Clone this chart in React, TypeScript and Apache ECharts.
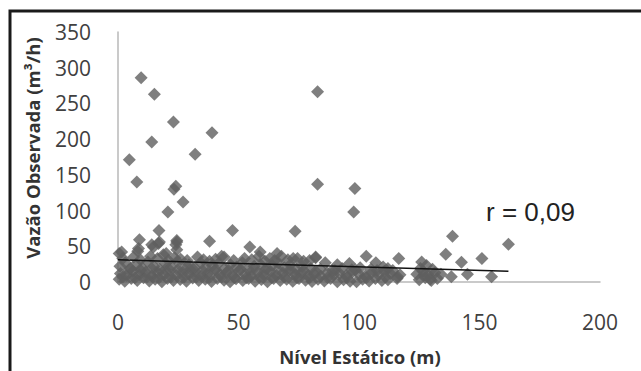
import React, { useEffect, useRef } from "react";
import * as echarts from "echarts";

// Nível Estático (m), Vazão Observada (m³/h)
const highPoints: number[][] = [
  [9.6, 286], [15.1, 263], [23, 224], [39, 209], [14, 196], [32, 179], [4.7, 171],
  [7.8, 140], [24, 134], [23.2, 130], [27, 112], [20.7, 98], [82.8, 266.5], [82.8, 137],
  [98.3, 131], [97.8, 98],
];

const midPoints: number[][] = [
  [1.5, 42], [8.2, 43], [8.5, 47], [8.9, 59], [14, 52], [14.7, 49], [16.8, 54], [17.2, 56],
  [17, 72], [20, 40], [24.4, 56], [24.4, 58], [24.4, 45], [24, 52], [38, 57], [47.5, 72],
  [54.7, 49], [59, 42], [66, 40], [73.5, 71], [82, 35], [103, 36], [116.5, 33], [126, 28],
  [136, 39], [138.8, 64], [142.5, 27.6], [151, 33], [162, 53], [116, 7.5], [138.3, 7.5],
  [145, 10.8], [155, 7.5], [112, 19], [96, 26],
];

const bandLow: number[][] = [
  [0.5, 4], [2.8, 1], [5.5, 5], [8, 2], [10.6, 6], [13, 1.5], [15.4, 4], [18.2, 0.5],
  [20.5, 5], [23, 2], [25.8, 3.5], [28.4, 1], [31, 5.5], [33.5, 2], [36.2, 4], [38.8, 0.8],
  [41.2, 5], [44, 2.5], [46.5, 0.5], [49, 4.5], [51.8, 2], [54.2, 5], [56.9, 1], [59.5, 3.5],
  [62, 0.5], [64.6, 5], [67.3, 2], [70, 4], [72.5, 1], [75.1, 5], [77.8, 2.5], [80.5, 0.8],
  [83, 4], [85.6, 1.5], [88.2, 5], [91, 0.5], [93.6, 3], [96.3, 1], [99, 0.5], [101.5, 4],
  [104.2, 1.5], [106.8, 5], [109.5, 2], [112, 3], [115.8, 5], [125, 3], [127.5, 6], [130, 2],
  [132.5, 5],
];

const bandMid: number[][] = [
  [1, 12], [3.5, 9], [6.2, 15], [8.8, 10], [11.5, 14], [14, 8.5], [16.6, 13], [19.1, 10],
  [21.7, 16], [24.3, 9], [26.9, 13.5], [29.5, 11], [32, 15], [34.6, 8], [37.2, 12], [39.9, 16],
  [42.3, 10], [45, 13], [47.6, 9], [50.1, 15], [52.8, 11], [55.4, 8.5], [58, 13.5], [60.5, 10],
  [63.2, 15], [65.8, 9], [68.4, 12.5], [71, 16], [73.6, 10], [76.2, 13], [79, 9], [81.5, 11],
  [84.2, 8], [86.8, 13], [89.5, 10], [92, 12], [94.7, 9], [97.3, 14], [100, 11], [102.6, 8.5],
  [105.3, 13], [108, 10], [110.5, 15], [113, 12], [117, 10], [124, 11], [126.5, 15], [129, 9],
  [131.5, 13], [134, 11],
];

const bandFill: number[][] = [
  [2, 7], [4.5, 17], [7, 6], [9.5, 16], [12, 7], [14.5, 17], [17, 6], [19.5, 17], [22, 7],
  [24.8, 17], [27.5, 7], [30, 17], [32.5, 7], [35, 16], [37.8, 6], [40.5, 17], [43, 7],
  [45.8, 16], [48.3, 6], [50.8, 18], [53.3, 6], [56, 17], [58.7, 7], [61.2, 16], [63.8, 6],
  [66.3, 17], [69, 7], [71.8, 16], [74.3, 6], [77, 16], [79.5, 6], [82, 15], [87, 6], [90, 16],
  [95, 6], [98.5, 17], [103, 6], [107.5, 16], [111, 7], [114, 16], [127, 10], [129.5, 4],
];

const bandUpper: number[][] = [
  [0.8, 22], [3, 27], [5.2, 19], [7.5, 25], [10, 20], [12.4, 28], [14.8, 22], [17.3, 18],
  [19.6, 26], [22, 21], [24.6, 29], [27, 19], [29.4, 24], [31.8, 20], [34.3, 27], [36.8, 18.5],
  [39.2, 23], [41.7, 26], [44.2, 19], [46.7, 24], [49.2, 21], [51.6, 27], [54, 18], [56.5, 22],
  [59, 25], [61.5, 19], [64, 23], [66.5, 27], [69, 20], [71.5, 24], [74, 18], [76.5, 22],
  [80, 19], [84, 18], [89, 16], [93, 19], [97, 17], [100.5, 20], [105, 18], [110, 21],
  [125.5, 19], [128, 23], [130.5, 18],
];

const bandTop: number[][] = [
  [0.5, 40], [2, 33], [6.5, 35], [9.3, 31], [13.5, 36], [16.4, 33], [18.8, 38], [21, 30],
  [23.5, 34], [26, 32], [28.7, 30], [33, 35], [35.5, 31], [38, 29], [40.5, 32], [43, 36],
  [44, 35], [48, 30], [52.5, 33], [55.5, 31], [58.5, 36], [61, 29], [63, 33], [65, 30],
  [67.8, 36], [70.5, 31], [72.7, 33], [74.5, 33], [77, 29], [79.5, 30], [82, 34], [86, 27],
  [91, 24], [107, 27],
];

// trend line endpoints
const trendX = [0, 162];
const trendY = [31, 15];

const xTicks = { min: 0, max: 200, interval: 50 };
const yTicks = { min: 0, max: 350, interval: 50 };

const xTitle = "Nível Estático (m)";
const yTitle = "Vazão Observada (m³/h)";
const rLabel = "r = 0,09";

export default function App() {
  const ref = useRef<HTMLDivElement>(null);
  useEffect(() => {
    if (!ref.current) return;
    const chart = echarts.init(ref.current, null, { renderer: "svg" });
    const all = [
      ...highPoints, ...midPoints, ...bandLow, ...bandMid, ...bandFill, ...bandUpper, ...bandTop,
    ];
    chart.setOption({
      animation: false,
      backgroundColor: "#ffffff",
      grid: { left: 118, right: 41, top: 32, bottom: 89 },
      xAxis: {
        type: "value",
        min: xTicks.min,
        max: xTicks.max,
        interval: xTicks.interval,
        axisLine: { show: true, lineStyle: { color: "#b8b8b8", width: 1.5 } },
        axisTick: { show: false },
        splitLine: { show: false },
        axisLabel: { fontSize: 21, color: "#404040", fontFamily: "Open Sans", margin: 29 },
      },
      yAxis: {
        type: "value",
        min: yTicks.min,
        max: yTicks.max,
        interval: yTicks.interval,
        axisLine: { show: true, lineStyle: { color: "#b8b8b8", width: 1.5 } },
        axisTick: { show: false },
        splitLine: { show: false },
        axisLabel: { fontSize: 21, color: "#404040", fontFamily: "Open Sans", margin: 27 },
      },
      series: [
        {
          type: "scatter",
          symbol: "diamond",
          symbolSize: 13,
          itemStyle: { color: "#5f5f5f" },
          data: all,
          z: 2,
        },
        {
          type: "line",
          data: trendX.map((x, i) => [x, trendY[i]]),
          symbol: "none",
          lineStyle: { color: "#111111", width: 1.5 },
          z: 3,
        },
      ],
      graphic: [
        {
          type: "polyline",
          shape: { points: [[10, 371], [10, 11], [641, 11]] },
          style: { stroke: "#1a1a1a", lineWidth: 3, fill: "none" },
        },
        {
          type: "text",
          x: 32,
          y: 148,
          rotation: Math.PI / 2,
          style: {
            text: yTitle,
            fontSize: 18.5,
            fontWeight: "bold",
            fontFamily: "Open Sans",
            fill: "#333333",
            align: "center",
            verticalAlign: "middle",
          },
        },
        {
          type: "text",
          x: 360,
          y: 356,
          style: {
            text: xTitle,
            fontSize: 18.5,
            fontWeight: "bold",
            fontFamily: "Open Sans",
            fill: "#333333",
            align: "center",
            verticalAlign: "middle",
          },
        },
        {
          type: "text",
          x: 486,
          y: 212,
          style: {
            text: rLabel,
            fontSize: 26,
            fontFamily: "Liberation Sans",
            fill: "#222222",
            align: "left",
            verticalAlign: "middle",
          },
        },
      ],
    });
    return () => chart.dispose();
  }, []);
  return (
    <div
      ref={ref}
      style={{ position: "fixed", left: 0, top: 0, width: 641, height: 371, background: "#fff" }}
    />
  );
}
